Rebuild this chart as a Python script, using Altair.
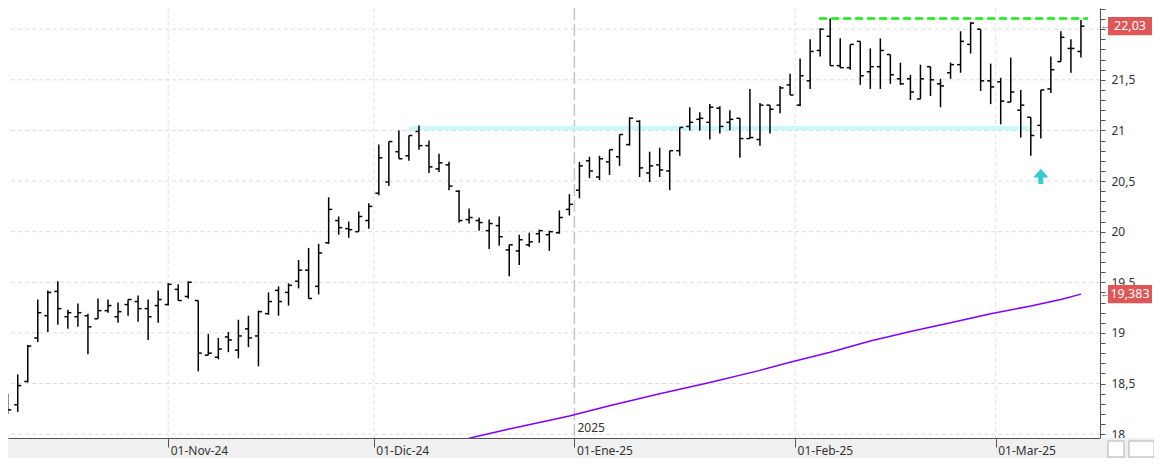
import altair as alt
import pandas as pd

# ---- OHLC values (one per trading day, 10-Oct-24 .. 13-Mar-25) ----
opens = [18.30, 18.29, 18.52, 18.95, 19.17, 19.41, 19.16, 19.16, 19.17, 19.14,
         19.22, 19.16, 19.28, 19.31, 19.24, 19.27, 19.28, 19.43, 19.36, 19.32,
         18.78, 18.76, 18.96, 18.83, 19.04, 18.97, 19.19, 19.42, 19.40, 19.51,
         19.62, 19.46, 19.89, 20.11, 20.03, 20.00, 20.11, 20.38, 20.49, 20.79,
         20.75, 20.99, 20.85, 20.62, 20.66, 20.40, 20.12, 20.11, 20.01, 20.06,
         19.82, 19.81, 19.87, 19.98, 19.97, 19.99, 20.22, 20.41, 20.70, 20.54,
         20.69, 20.74, 20.86, 21.09, 20.58, 20.66, 20.60, 20.80, 21.04, 21.11,
         21.08, 21.22, 21.08, 21.12, 20.92, 20.91, 21.25, 21.25, 21.45, 21.25,
         21.49, 21.79, 21.93, 21.64, 21.62, 21.88, 21.58, 21.63, 21.75, 21.51,
         21.51, 21.31, 21.63, 21.46, 21.57, 21.65, 21.85, 22.00, 21.49, 21.48,
         21.28, 21.20, 21.13, 21.05, 21.41, 21.68, 21.81, 21.78]
highs = [18.40, 18.59, 18.88, 19.33, 19.42, 19.51, 19.23, 19.29, 19.19, 19.34,
         19.33, 19.30, 19.33, 19.37, 19.33, 19.42, 19.49, 19.48, 19.51, 19.32,
         18.99, 18.95, 19.01, 19.13, 19.17, 19.22, 19.40, 19.46, 19.49, 19.72,
         19.84, 19.88, 20.34, 20.15, 20.10, 20.20, 20.28, 20.86, 20.89, 21.00,
         20.95, 21.05, 20.90, 20.77, 20.69, 20.41, 20.23, 20.14, 20.12, 20.15,
         19.87, 19.97, 19.99, 20.02, 20.01, 20.21, 20.37, 20.69, 20.74, 20.75,
         20.81, 20.96, 21.13, 21.10, 20.79, 20.83, 20.80, 21.03, 21.23, 21.18,
         21.26, 21.24, 21.20, 21.12, 21.41, 21.27, 21.25, 21.44, 21.56, 21.71,
         21.90, 22.01, 22.105, 21.91, 21.85, 21.88, 21.81, 21.91, 21.75, 21.67,
         21.55, 21.65, 21.63, 21.51, 21.67, 21.98, 22.07, 22.00, 21.66, 21.52,
         21.72, 21.40, 21.13, 21.40, 21.73, 21.98, 21.90, 22.09]
lows = [18.20, 18.22, 18.51, 18.91, 19.01, 19.08, 19.04, 19.06, 18.79, 19.14,
        19.20, 19.10, 19.17, 19.11, 18.93, 19.10, 19.27, 19.32, 19.34, 18.62,
        18.78, 18.74, 18.81, 18.75, 18.86, 18.67, 19.18, 19.17, 19.27, 19.44,
        19.34, 19.38, 19.88, 19.97, 19.94, 20.00, 20.03, 20.36, 20.45, 20.72,
        20.70, 20.81, 20.58, 20.59, 20.41, 20.09, 20.08, 20.01, 19.83, 19.86,
        19.56, 19.67, 19.85, 19.89, 19.81, 19.98, 20.16, 20.33, 20.53, 20.51,
        20.56, 20.65, 20.85, 20.54, 20.49, 20.54, 20.41, 20.75, 21.00, 21.00,
        20.91, 20.97, 21.00, 20.73, 20.92, 20.85, 20.97, 21.17, 21.35, 21.24,
        21.41, 21.73, 21.64, 21.62, 21.60, 21.45, 21.41, 21.41, 21.46, 21.45,
        21.30, 21.31, 21.34, 21.23, 21.51, 21.57, 21.76, 21.39, 21.26, 21.06,
        21.28, 20.93, 20.75, 20.92, 21.37, 21.68, 21.57, 21.72]
closes = [18.24, 18.48, 18.87, 19.20, 19.40, 19.24, 19.20, 19.20, 19.06, 19.22,
          19.27, 19.21, 19.33, 19.24, 19.16, 19.33, 19.48, 19.32, 19.50, 18.80,
          18.80, 18.84, 18.93, 18.97, 18.95, 19.21, 19.31, 19.31, 19.47, 19.62,
          19.34, 19.79, 20.22, 20.04, 20.02, 20.15, 20.25, 20.73, 20.89, 20.72,
          20.95, 20.85, 20.64, 20.68, 20.45, 20.11, 20.14, 20.09, 20.08, 19.95,
          19.87, 19.92, 19.90, 20.01, 20.00, 20.14, 20.27, 20.65, 20.60, 20.72,
          20.81, 20.96, 21.12, 20.63, 20.65, 20.61, 20.80, 21.03, 21.08, 21.12,
          21.23, 21.04, 21.11, 20.92, 20.93, 21.25, 21.21, 21.42, 21.35, 21.54,
          21.78, 22.00, 21.64, 21.62, 21.85, 21.54, 21.63, 21.79, 21.55, 21.46,
          21.38, 21.51, 21.50, 21.44, 21.65, 21.88, 22.06, 21.49, 21.43, 21.29,
          21.38, 21.25, 20.95, 21.40, 21.60, 21.92, 21.81, 22.03]

# ---- long moving average (read at selected bars) ----
ma_idx = [46, 50, 56, 60, 65, 70, 75, 78, 82, 86, 90, 94, 98, 102, 105, 107]
ma_val = [17.96, 18.05, 18.18, 18.28, 18.40, 18.51, 18.63, 18.71, 18.81, 18.92,
          19.015, 19.10, 19.19, 19.265, 19.33, 19.383]

# ---- axis / annotation values ----
month_pos = [16, 36.5, 56.5, 78.5, 98.5]
month_labels = ["01-Nov-24", "01-Dic-24", "01-Ene-25", "01-Feb-25", "01-Mar-25"]
year_pos = [56.5]
year_label = ["2025"]
grid_levels = [18.0, 18.5, 19.0, 19.5, 20.0, 20.5, 21.0, 21.5, 22.0]
y_ticks = [round(18.0 + 0.1 * k, 1) for k in range(43)]
hidden_label = 22.0   # covered by the last-price tag in the reference
resist = {"x0": 80.9, "x1": 107.7, "v": 22.105}
support = {"x0": 40.0, "x1": 101.9, "v": 21.025}
signal = {"i": 103, "v": 20.546}
price_tags = {"v": [22.03, 19.383], "t": ["22,03", "19,383"]}

FONT = "Segoe UI, Noto Sans, DejaVu Sans, sans-serif"
W, H, RP, BP = 1092, 430, 54, 20

XS = alt.Scale(domain=[0.03, 108.9], nice=False, zero=False)
YS = alt.Scale(domain=[17.962, 22.2095], nice=False, zero=False)

month_expr = "".join(f"datum.value == {p} ? '{l}' : " for p, l in zip(month_pos, month_labels)) + "''"
XAXIS = alt.Axis(values=month_pos, labelExpr=month_expr, title=None, grid=False, orient="bottom",
                 tickSize=9, tickColor="#555555", tickWidth=1, domainColor="#555555", domainWidth=1,
                 labelAlign="left", labelBaseline="middle", labelPadding=3, labelOffset=2,
                 labelColor="#333333", labelFont=FONT, labelFontSize=12, labelFlush=False,
                 labelOverlap=False, labelBound=False, zindex=1)
YAXIS = alt.Axis(values=y_ticks,
                 labelExpr=(f"abs(datum.value*2 - round(datum.value*2)) < 0.01 && abs(datum.value - {hidden_label}) > 0.01"
                            " ? replace(format(datum.value, '.1~f'), '.', ',') : ''"),
                 title=None, grid=False, orient="right", tickSize=5, tickColor="#555555", tickWidth=1,
                 domainColor="#555555", domainWidth=1, labelPadding=6, labelColor="#333333",
                 labelFont=FONT, labelFontSize=12, labelFlush=False, labelOverlap=False,
                 labelBaseline="middle", zindex=0)


def X(f):
    return alt.X(f, type="quantitative", scale=XS, axis=XAXIS)


def Y(f):
    return alt.Y(f, type="quantitative", scale=YS, axis=YAXIS)


df = pd.DataFrame({"i": list(range(len(opens))), "open": opens, "high": highs,
                   "low": lows, "close": closes})
one = pd.DataFrame({"a": [0]})

band = alt.Chart(one).mark_rect(color="#f0f0f0").encode(
    x=alt.value(0), x2=alt.value(W + RP), y=alt.value(H), y2=alt.value(H + BP))
btn1 = alt.Chart(one).mark_rect(color="white", stroke="#b0b0b0", strokeWidth=1).encode(
    x=alt.value(W + 8), x2=alt.value(W + 24), y=alt.value(H + 3), y2=alt.value(H + 19))
btn2 = alt.Chart(one).mark_rect(color="white", stroke="#b0b0b0", strokeWidth=1).encode(
    x=alt.value(W + 29), x2=alt.value(W + RP), y=alt.value(H + 3), y2=alt.value(H + 19))

hgrid = alt.Chart(pd.DataFrame({"v": grid_levels})).mark_rule(
    color="#dcdcdc", strokeDash=[4, 3], strokeWidth=1).encode(y=Y("v"))
vgrid = alt.Chart(pd.DataFrame({"p": [p for p in month_pos if p not in year_pos]})).mark_rule(
    color="#e2e2e2", strokeDash=[4, 3], strokeWidth=1).encode(x=X("p"))
yline = alt.Chart(pd.DataFrame({"p": year_pos, "t": year_label})).mark_rule(
    color="#c4c4c4", strokeDash=[12, 4], strokeWidth=1.5).encode(x=X("p"))
ytext = alt.Chart(pd.DataFrame({"p": year_pos, "t": year_label})).mark_text(
    align="left", baseline="bottom", dx=3, dy=-3, font=FONT, fontSize=12, color="#333333").encode(
    x=X("p"), y=alt.value(H), text="t:N")

supp = alt.Chart(pd.DataFrame([support])).mark_rule(
    color="#c8fafa", strokeWidth=4).encode(x=X("x0"), x2=alt.X2("x1"), y=Y("v"))

ma = alt.Chart(pd.DataFrame({"i": ma_idx, "v": ma_val})).mark_line(
    color="#8000ff", strokeWidth=1.5, clip=True).encode(x=X("i"), y=Y("v"))

base = alt.Chart(df).transform_calculate(xl="datum.i - 0.35", xr="datum.i + 0.35")
hl = base.mark_rule(color="black", strokeWidth=1.5, clip=True).encode(
    x=X("i"), y=Y("low"), y2=alt.Y2("high"))
op = base.mark_rule(color="black", strokeWidth=1.5, clip=True).encode(
    x=X("xl:Q"), x2=alt.X2("i"), y=Y("open"))
cl = base.mark_rule(color="black", strokeWidth=1.5, clip=True).encode(
    x=X("i"), x2=alt.X2("xr"), y=Y("close"))

res = alt.Chart(pd.DataFrame([resist])).mark_rule(
    color="#11ee11", strokeWidth=2.5, strokeDash=[8, 4]).encode(x=X("x0"), x2=alt.X2("x1"), y=Y("v"))

arrow = alt.Chart(pd.DataFrame([signal])).mark_point(
    shape="M0,-1 L1,0.15 L0.32,0.15 L0.32,1 L-0.32,1 L-0.32,0.15 L-1,0.15 Z",
    filled=True, color="#33cccc", size=230, opacity=1).encode(x=X("i"), y=Y("v"))

tags_df = pd.DataFrame(price_tags)
tag_box = alt.Chart(tags_df).transform_calculate(lo="datum.v - 0.09", hi="datum.v + 0.09").mark_rect(
    color="#e05656").encode(x=alt.value(W + 8), x2=alt.value(W + 52), y=Y("lo:Q"), y2=alt.Y2("hi"))
tag_txt = alt.Chart(tags_df).mark_text(
    color="white", font=FONT, fontSize=12.5, align="center", baseline="middle").encode(
    x=alt.value(W + 30), y=Y("v"), text="t:N")
tag_ptr = alt.Chart(tags_df).mark_text(
    text="\u2190", color="#555555", fontSize=9, align="center", baseline="middle").encode(
    x=alt.value(W + 5), y=Y("v"))

chart = alt.layer(
    band, btn1, btn2, hgrid, vgrid, yline, supp, ma, hl, op, cl, res, arrow,
    ytext, tag_box, tag_txt, tag_ptr
).properties(
    width=W, height=H,
    padding={"left": 0, "top": 0, "right": RP, "bottom": BP},
    autosize=alt.AutoSizeParams(type="none"),
    background="white",
).configure_view(stroke="transparent")

chart.save("out.html", embed_options={"renderer": "svg", "actions": False})
